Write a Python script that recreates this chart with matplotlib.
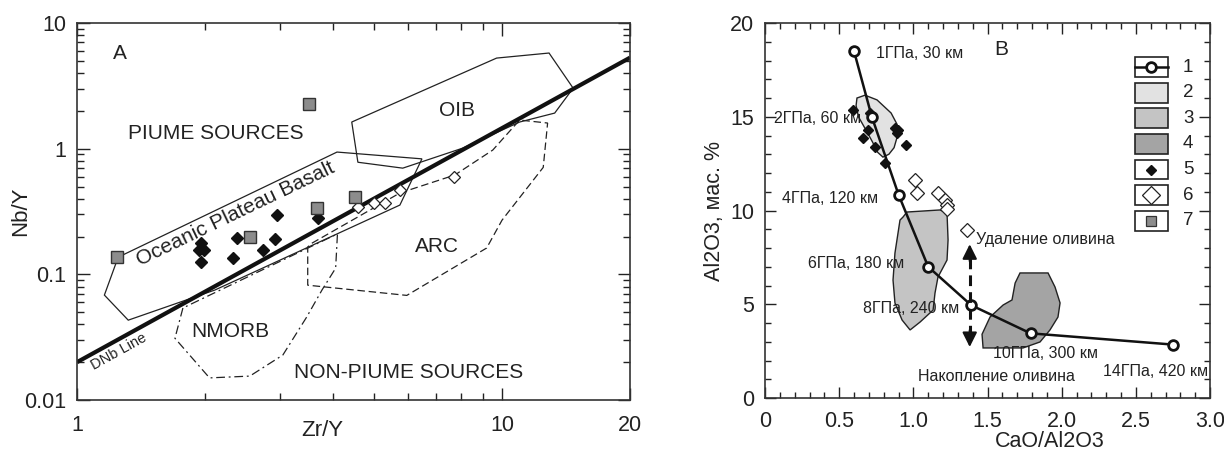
import numpy as np
import matplotlib.pyplot as plt
from matplotlib.patches import Polygon, Rectangle
from matplotlib.ticker import NullFormatter

plt.rcParams['font.family'] = ['Liberation Sans', 'DejaVu Sans']

# --- панель A: Zr/Y - Nb/Y
dnb_x = [1, 20]
dnb_y = [0.02, 5.3]

plateau_x = [1.25, 4.09, 6.48, 5.75, 2.11, 1.32, 1.16]
plateau_y = [0.137, 0.94, 0.83, 0.356, 0.075, 0.0432, 0.0684]

oib_x = [4.43, 9.71, 12.9, 14.7, 13.3, 11.0, 8.08, 5.84, 4.58]
oib_y = [1.63, 5.26, 5.77, 3.03, 1.92, 1.63, 1.01, 0.70, 0.78]

arc_x = [3.57, 5.75, 7.74, 9.51, 11.0, 12.8, 12.5, 10.0, 9.2, 5.97, 3.49, 3.49]
arc_y = [0.177, 0.444, 0.617, 0.975, 1.69, 1.60, 0.71, 0.27, 0.162, 0.068, 0.082, 0.165]

nmorb_x = [1.775, 1.70, 2.05, 2.55, 3.05, 3.47, 3.77, 4.06, 4.1]
nmorb_y = [0.054, 0.031, 0.015, 0.0155, 0.0228, 0.0457, 0.075, 0.112, 0.21]

a_black_x = [1.96, 1.94, 1.99, 1.96, 2.38, 2.33, 2.74, 2.92, 2.95, 3.69]
a_black_y = [0.177, 0.156, 0.156, 0.125, 0.195, 0.135, 0.156, 0.191, 0.297, 0.281]

a_open_x = [4.58, 5.0, 5.3, 5.75, 7.7]
a_open_y = [0.342, 0.369, 0.369, 0.469, 0.594]

a_square_x = [1.24, 3.51, 2.55, 3.67, 4.51]
a_square_y = [0.137, 2.26, 0.198, 0.336, 0.412]

# --- панель B: CaO/Al2O3 - Al2O3
melt_x = [0.6, 0.72, 0.9, 1.1, 1.39, 1.79, 2.75]
melt_y = [18.5, 15.0, 10.85, 7.0, 4.95, 3.45, 2.85]
melt_labels = ['1ГПа, 30 км', '2ГПа, 60 км', '4ГПа, 120 км', '6ГПа, 180 км',
               '8ГПа, 240 км', '10ГПа, 300 км', '14ГПа, 420 км']

field2_x = [0.620, 0.674, 0.755, 0.850, 0.890, 0.890, 0.870, 0.835, 0.795, 0.760, 0.725, 0.680, 0.630, 0.614]
field2_y = [16.0, 16.15, 15.9, 15.2, 14.6, 13.9, 13.35, 13.0, 12.85, 13.1, 13.65, 14.3, 15.0, 15.6]

field3_x = [0.930, 0.957, 1.180, 1.227, 1.234, 1.227, 1.166, 1.146, 1.133, 1.045, 0.978, 0.924, 0.876, 0.863, 0.876, 0.910]
field3_y = [9.65, 9.92, 10.03, 9.87, 8.43, 7.36, 6.45, 5.60, 4.69, 4.05, 3.63, 4.16, 5.07, 6.29, 7.73, 9.49]

field4_x = [1.719, 1.908, 1.955, 1.989, 1.975, 1.921, 1.854, 1.739, 1.564, 1.470, 1.463, 1.517, 1.605, 1.665, 1.686]
field4_y = [6.67, 6.67, 5.92, 5.07, 4.32, 3.63, 2.99, 2.67, 2.67, 2.67, 3.40, 4.32, 4.96, 5.23, 6.13]

b_black_x = [0.593, 0.708, 0.694, 0.661, 0.742, 0.809, 0.876, 0.897, 0.890, 0.951]
b_black_y = [15.36, 15.2, 14.29, 13.87, 13.39, 12.53, 14.4, 14.29, 14.13, 13.49]

b_open_x = [1.011, 1.025, 1.166, 1.213, 1.227, 1.227, 1.362]
b_open_y = [11.63, 10.93, 10.93, 10.56, 10.29, 10.08, 8.96]

olivine_x = 1.38
olivine_top = 8.2
olivine_bottom = 2.72

legend_labels = ['1', '2', '3', '4', '5', '6', '7']

c_f2 = '#e2e2e2'
c_f3 = '#c4c4c4'
c_f4 = '#a4a4a4'
c_sq = '#8c8c8c'

fig = plt.figure(figsize=(12.24, 4.54), dpi=100)
axA = fig.add_axes([0.0629, 0.1189, 0.4518, 0.8304])
axB = fig.add_axes([0.625, 0.1233, 0.3636, 0.826])

# ===================== A =====================
axA.set_xscale('log')
axA.set_yscale('log')
axA.set_xlim(1, 20)
axA.set_ylim(0.01, 10)

axA.add_patch(Polygon(np.column_stack([plateau_x, plateau_y]), closed=True,
                      fill=False, ec='#222222', lw=0.9))
axA.add_patch(Polygon(np.column_stack([oib_x, oib_y]), closed=True,
                      fill=False, ec='#222222', lw=0.9))
axA.add_patch(Polygon(np.column_stack([arc_x, arc_y]), closed=True,
                      fill=False, ec='#222222', lw=0.9, ls=(0, (6, 3))))
axA.add_patch(Polygon(np.column_stack([nmorb_x, nmorb_y]), closed=True,
                      fill=False, ec='#222222', lw=0.9, ls=(0, (7, 3, 1.5, 3))))
axA.plot(dnb_x, dnb_y, color='#111111', lw=3.0, solid_capstyle='butt')

axA.plot(a_black_x, a_black_y, 'D', ms=6.5, mfc='#111111', mec='#111111', ls='none')
axA.plot(a_open_x, a_open_y, 'D', ms=6, mfc='white', mec='#222222', mew=0.9, ls='none')
axA.plot(a_square_x, a_square_y, 's', ms=9, mfc=c_sq, mec='#333333', mew=1.0, ls='none')

kw = dict(transform=axA.transAxes, fontsize=15, color='#222222')
axA.text(0.078, 0.920, 'A', ha='center', va='center', **kw)
axA.text(0.251, 0.706, 'PIUME SOURCES', ha='center', va='center', **kw)
axA.text(0.687, 0.767, 'OIB', ha='center', va='center', **kw)
axA.text(0.651, 0.408, 'ARC', ha='center', va='center', **kw)
axA.text(0.277, 0.183, 'NMORB', ha='center', va='center', **kw)
axA.text(0.599, 0.074, 'NON-PIUME SOURCES', ha='center', va='center', **kw)
axA.text(0.2875, 0.493, 'Oceanic Plateau Basalt', ha='center', va='center',
         rotation=25.7, rotation_mode='anchor', **kw)
axA.text(0.076, 0.127, 'DNb Line', ha='center', va='center', rotation=29,
         rotation_mode='anchor', transform=axA.transAxes, fontsize=10.5, color='#222222')

axA.set_xticks([1, 10, 20], ['1', '10', '20'])
axA.set_xticks([2, 3, 4, 5, 6, 7, 8, 9], minor=True)
axA.set_yticks([0.01, 0.1, 1, 10], ['0.01', '0.1', '1', '10'])
axA.set_yticks([k * 10.0 ** e for e in (-2, -1, 0) for k in range(2, 10)], minor=True)
axA.xaxis.set_minor_formatter(NullFormatter())
axA.yaxis.set_minor_formatter(NullFormatter())
axA.tick_params(which='both', direction='in', top=True, right=True,
                labelsize=15.5, width=1.0, colors='#222222')
axA.tick_params(which='major', length=9)
axA.tick_params(which='minor', length=5)
axA.tick_params(axis='x', pad=11)
axA.tick_params(axis='y', pad=8)
axA.set_xlabel('Zr/Y', fontsize=16, color='#222222')
axA.xaxis.set_label_coords(0.443, -0.053)
axA.set_ylabel('Nb/Y', fontsize=16, color='#222222')
axA.yaxis.set_label_coords(-0.083, 0.5)
for s in axA.spines.values():
    s.set_linewidth(1.2)
    s.set_color('#333333')

# ===================== B =====================
axB.set_xlim(0, 3)
axB.set_ylim(0, 20)

axB.add_patch(Polygon(np.column_stack([field2_x, field2_y]), closed=True,
                      fc=c_f2, ec='#222222', lw=1.0))
axB.add_patch(Polygon(np.column_stack([field3_x, field3_y]), closed=True,
                      fc=c_f3, ec='#222222', lw=1.0))
axB.add_patch(Polygon(np.column_stack([field4_x, field4_y]), closed=True,
                      fc=c_f4, ec='#222222', lw=1.0))

axB.plot(b_black_x, b_black_y, 'D', ms=5, mfc='#111111', mec='#111111', ls='none')
axB.plot(b_open_x, b_open_y, 'D', ms=7.5, mfc='white', mec='#222222', mew=0.9, ls='none')
axB.plot(melt_x, melt_y, '-', color='#111111', lw=1.8, marker='o', ms=7,
         mfc='white', mec='#111111', mew=2.0)

# удаление / накопление оливина
axB.plot([olivine_x, olivine_x], [olivine_bottom + 0.6, olivine_top - 0.6],
         color='#111111', lw=2.2, ls=(0, (3.5, 2)))
axB.annotate('', xy=(olivine_x, olivine_top), xytext=(olivine_x, olivine_top - 0.9),
             arrowprops=dict(arrowstyle='-|>', color='#111111', lw=1.5,
                             mutation_scale=22, shrinkA=0, shrinkB=0))
axB.annotate('', xy=(olivine_x, olivine_bottom), xytext=(olivine_x, olivine_bottom + 0.9),
             arrowprops=dict(arrowstyle='-|>', color='#111111', lw=1.5,
                             mutation_scale=22, shrinkA=0, shrinkB=0))

label_pos = [(0.748, 18.37), (0.06, 14.9), (0.115, 10.64), (0.29, 7.17),
             (0.66, 4.75), (1.537, 2.35), (2.279, 1.44)]
for (tx, ty), lab in zip(label_pos, melt_labels):
    axB.text(tx, ty, lab, fontsize=11.5, ha='left', va='center', color='#222222')
axB.text(1.423, 8.43, 'Удаление оливина', fontsize=11.5, ha='left', va='center', color='#222222')
axB.text(1.03, 1.17, 'Накопление оливина', fontsize=11.5, ha='left', va='center', color='#222222')
axB.text(1.59, 18.6, 'B', fontsize=15, ha='center', va='center', color='#222222')

# условные обозначения
box_fc = ['white', c_f2, c_f3, c_f4, 'white', 'white', 'white']
bx, bw, bh = 0.831, 0.074, 0.053
for i, lab in enumerate(legend_labels):
    top = 0.909 - i * 0.0683
    axB.add_patch(Rectangle((bx, top - bh), bw, bh, transform=axB.transAxes,
                            fc=box_fc[i], ec='#222222', lw=1.2, clip_on=False))
    cy = top - bh / 2
    cx = bx + bw / 2
    if i == 0:
        axB.plot([bx, bx + bw], [cy, cy], '-', color='#111111', lw=1.8,
                 transform=axB.transAxes)
        axB.plot([cx], [cy], 'o', ms=7, mfc='white', mec='#111111', mew=2.0,
                 transform=axB.transAxes)
    elif i == 4:
        axB.plot([cx], [cy], 'D', ms=5, mfc='#111111', mec='#111111', transform=axB.transAxes)
    elif i == 5:
        axB.plot([cx], [cy], 'D', ms=9, mfc='white', mec='#222222', mew=0.9,
                 transform=axB.transAxes)
    elif i == 6:
        axB.plot([cx], [cy], 's', ms=7, mfc=c_sq, mec='#333333', mew=0.9,
                 transform=axB.transAxes)
    axB.text(0.951, cy, lab, transform=axB.transAxes, fontsize=13.5,
             ha='center', va='center', color='#222222')

axB.set_xticks([0, 0.5, 1.0, 1.5, 2.0, 2.5, 3.0], ['0', '0.5', '1.0', '1.5', '2.0', '2.5', '3.0'])
axB.set_xticks(np.arange(0, 3.01, 0.1), minor=True)
axB.set_yticks([0, 5, 10, 15, 20], ['0', '5', '10', '15', '20'])
axB.set_yticks(np.arange(0, 20.1, 1), minor=True)
axB.tick_params(which='both', direction='in', top=True, right=True,
                labelsize=15.5, width=1.0, colors='#222222')
axB.tick_params(which='major', length=8)
axB.tick_params(which='minor', length=4.5)
axB.tick_params(axis='x', pad=9)
axB.tick_params(axis='y', pad=8)
axB.set_xlabel('CaO/Al2O3', fontsize=15.5, color='#222222')
axB.xaxis.set_label_coords(0.64, -0.087)
axB.set_ylabel('Al2O3, мас. %', fontsize=15.5, color='#222222')
axB.yaxis.set_label_coords(-0.09, 0.5)
for s in axB.spines.values():
    s.set_linewidth(1.2)
    s.set_color('#333333')

fig.savefig('out.png', dpi=100)
